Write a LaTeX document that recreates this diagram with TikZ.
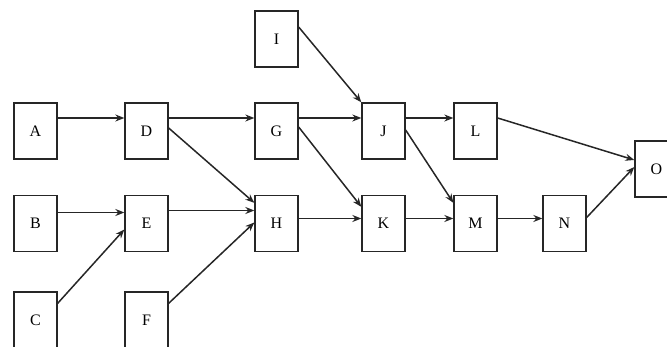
\documentclass[tikz,border=0pt]{standalone}
\usepackage{fontspec}
\setmainfont{Liberation Serif}
\usetikzlibrary{arrows.meta}
\begin{document}
\begin{tikzpicture}[x=1pt,y=-1pt,
  task/.style={draw=black!85,line width=1.3pt,fill=white,minimum width=43pt,minimum height=56pt,inner sep=0pt,font=\fontsize{16}{16}\selectfont},
  link/.style={draw=black!85,line width=1.5pt,-{Stealth[length=9pt,width=7pt]}}]
\useasboundingbox (0,0) rectangle (667,347);
% activity boxes
\node[task] (A) at (35.5,131) {A};
\node[task] (D) at (146.5,131) {D};
\node[task] (G) at (276.5,131) {G};
\node[task] (I) at (276.5,39) {I};
\node[task] (J) at (383.5,131) {J};
\node[task] (L) at (475.5,131) {L};
\node[task] (O) at (656.5,169) {O};
\node[task] (B) at (35.5,223.5) {B};
\node[task] (E) at (146.5,223.5) {E};
\node[task] (H) at (276.5,223.5) {H};
\node[task] (K) at (383.5,223.5) {K};
\node[task] (M) at (475.5,223.5) {M};
\node[task] (N) at (564.5,223.5) {N};
\node[task] (C) at (35.5,320) {C};
\node[task] (F) at (146.5,320) {F};
% precedence links
\draw[link] ([yshift=13pt]A.east) -- ([yshift=13pt]D.west);
\draw[link] ([yshift=13pt]D.east) -- ([yshift=13pt]G.west);
\draw[link] ([yshift=3pt]D.east) -- ([yshift=-8pt]H.north west);
\draw[link] ([yshift=12pt]I.east) -- (J.north west);
\draw[link] ([yshift=13pt]G.east) -- ([yshift=13pt]J.west);
\draw[link] ([yshift=4pt]G.east) -- ([yshift=-12pt]K.north west);
\draw[link] ([yshift=13pt]J.east) -- ([yshift=13pt]L.west);
\draw[link] ([yshift=1pt]J.east) -- ([yshift=-8pt]M.north west);
\draw[link] ([yshift=13pt]L.east) -- ([yshift=9pt]O.west);
\draw[link] ([yshift=6pt]N.east) -- ([yshift=2pt]O.west);
\draw[link] ([yshift=11pt]B.east) -- ([yshift=11pt]E.west);
\draw[link] ([yshift=-12pt]C.north east) -- ([yshift=-6pt]E.west);
\draw[link] ([yshift=13pt]E.east) -- ([yshift=13pt]H.west);
\draw[link] ([yshift=-12pt]F.north east) -- ([yshift=1pt]H.west);
\draw[link] ([yshift=5pt]H.east) -- ([yshift=5pt]K.west);
\draw[link] ([yshift=5pt]K.east) -- ([yshift=5pt]M.west);
\draw[link] ([yshift=5pt]M.east) -- ([yshift=5pt]N.west);
\end{tikzpicture}
\end{document}
